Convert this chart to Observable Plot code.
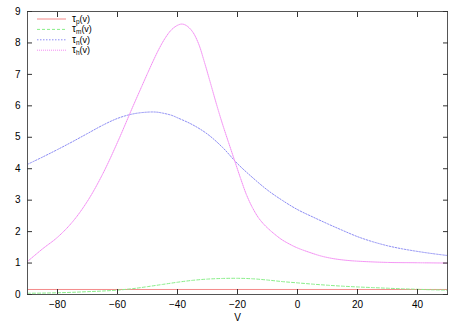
<!DOCTYPE html>
<html><head><meta charset="utf-8">
<script src="https://cdn.jsdelivr.net/npm/d3@7"></script>
<script src="https://cdn.jsdelivr.net/npm/@observablehq/plot@0.6"></script>
<style>body{margin:0;background:#fff;font-family:"Liberation Sans",Arial,sans-serif}</style>
</head><body><div id="chart"></div>
<script>
// tick labels
const xTicks = [-80, -60, -40, -20, 0, 20, 40];
const yTicks = [0, 1, 2, 3, 4, 5, 6, 7, 8, 9];
const xLabel = "V";

// series
const seriesKeys = ["p", "m", "n", "h"];
const seriesColors = ["#f48a8a", "#88ee88", "#8c8cf4", "#f48cf4"];
const seriesDash = [null, "3,2", "1.5,1.5", "1,1"];

const vP = [-90, 50];
const tauP = [0.16, 0.16];

const vM = [-90, -85, -80, -75, -70, -65, -60, -55, -50, -45, -40, -35, -30, -25, -20, -15, -10, -5, 0, 5, 10, 15, 20, 25, 30, 35, 40, 45, 50];
const tauM = [0.04, 0.045, 0.055, 0.07, 0.09, 0.11, 0.14, 0.185, 0.25, 0.32, 0.39, 0.45, 0.49, 0.51, 0.515, 0.50, 0.46, 0.41, 0.37, 0.33, 0.295, 0.265, 0.24, 0.22, 0.20, 0.18, 0.165, 0.15, 0.14];

const vN = [-90, -85, -80, -75, -70, -65, -60, -55, -50, -47, -45, -42, -40, -35, -30, -25, -20, -15, -10, -5, 0, 5, 10, 15, 20, 25, 30, 35, 40, 45, 50];
const tauN = [4.14, 4.37, 4.61, 4.86, 5.12, 5.38, 5.60, 5.74, 5.80, 5.80, 5.77, 5.70, 5.62, 5.40, 5.10, 4.68, 4.16, 3.72, 3.32, 2.99, 2.70, 2.47, 2.25, 2.04, 1.84, 1.68, 1.55, 1.45, 1.37, 1.30, 1.24];

const vH = [-90, -85, -80, -75, -70, -65, -60, -55, -52, -50, -48, -46, -44, -42, -40, -38.5, -37, -35, -33, -31, -29, -27, -25, -23, -21, -19, -17, -15, -13, -11, -9, -7, -5, -2, 0, 4, 8, 12, 16, 20, 30, 40, 50];
const tauH = [1.05, 1.45, 1.82, 2.31, 2.97, 3.82, 4.84, 5.95, 6.60, 7.03, 7.45, 7.84, 8.17, 8.42, 8.56, 8.60, 8.55, 8.36, 7.98, 7.38, 6.72, 6.05, 5.42, 4.84, 4.27, 3.70, 3.17, 2.76, 2.44, 2.21, 2.03, 1.87, 1.73, 1.57, 1.48, 1.34, 1.22, 1.14, 1.09, 1.06, 1.02, 1.01, 1.00];

const seriesV = {p: vP, m: vM, n: vN, h: vH};
const seriesT = {p: tauP, m: tauM, n: tauN, h: tauH};

const lineMarks = seriesKeys.map((k, i) => {
  const rows = seriesV[k].map((v, j) => ({v, tau: seriesT[k][j]}));
  return Plot.line(rows, {
    x: "v", y: "tau", curve: "catmull-rom",
    stroke: seriesColors[i], strokeWidth: 1,
    strokeDasharray: seriesDash[i] ?? undefined
  });
});

const plot = Plot.plot({
  width: 462, height: 323,
  marginLeft: 27, marginRight: 15, marginTop: 11, marginBottom: 29,
  style: {fontFamily: '"Liberation Sans", Arial, sans-serif', fontSize: "10px", color: "#000", background: "#fff"},
  x: {domain: [-90, 50]},
  y: {domain: [0, 9]},
  marks: [
    ...lineMarks,
    Plot.frame({stroke: "#555", strokeWidth: 1}),
    Plot.axisX(xTicks, {anchor: "bottom", tickSize: -5, tickPadding: 11, stroke: "#333", label: xLabel, labelAnchor: "center", labelArrow: "none", labelOffset: 26}),
    Plot.axisX(xTicks, {anchor: "top", tickSize: -5, tickFormat: () => "", stroke: "#333", label: null}),
    Plot.axisY(yTicks, {anchor: "left", tickSize: -5, tickPadding: 12, stroke: "#333", label: null}),
    Plot.axisY(yTicks, {anchor: "right", tickSize: -5, tickFormat: () => "", stroke: "#333", label: null})
  ]
});
document.getElementById("chart").appendChild(plot);

// legend (gnuplot style, inside the top-left of the frame)
const svg = d3.select(plot);
const leg = svg.append("g")
  .attr("font-family", '"Liberation Sans", Arial, sans-serif')
  .attr("font-size", 9)
  .attr("text-anchor", "start");
seriesKeys.forEach((k, i) => {
  const y = 19 + i * 10.4;
  leg.append("line").attr("x1", 37).attr("x2", 66).attr("y1", y).attr("y2", y)
    .attr("stroke", seriesColors[i]).attr("stroke-width", 1)
    .attr("stroke-dasharray", seriesDash[i] || null);
  const t = leg.append("text").attr("x", 72).attr("y", y + 3).attr("fill", "#000");
  t.append("tspan").attr("font-size", 10).text("τ");
  t.append("tspan").attr("font-size", 6.5).attr("dy", 2).text(k);
  t.append("tspan").attr("dy", -2).text("(v)");
});
</script>
</body></html>
